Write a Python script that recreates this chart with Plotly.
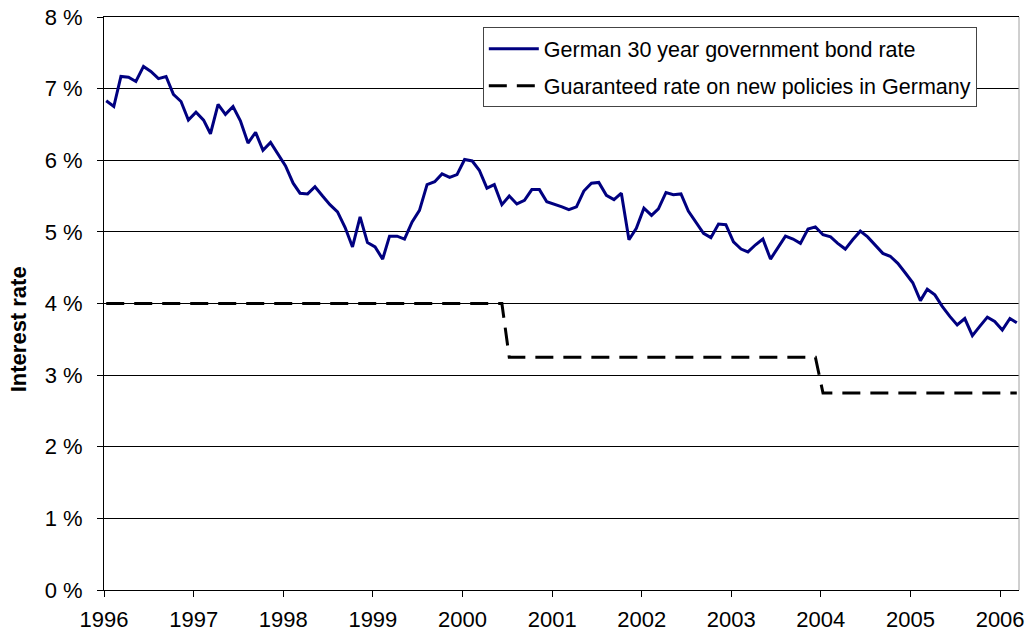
import plotly.graph_objects as go

# ---- data ----
year_ticks = ["1996-01-01", "1997-01-01", "1998-01-01", "1999-01-01", "2000-01-01",
              "2001-01-01", "2002-01-01", "2003-01-01", "2004-01-01", "2005-01-01",
              "2006-01-01"]
year_labels = ["1996", "1997", "1998", "1999", "2000", "2001", "2002", "2003",
               "2004", "2005", "2006"]

# monthly observations, Jan 1996 .. Mar 2006
months = [f"{1996 + i // 12}-{i % 12 + 1:02d}-10" for i in range(123)]

bond_rate = [
    6.83, 6.75, 7.17, 7.16, 7.10, 7.31, 7.24, 7.14, 7.17, 6.92, 6.82, 6.56,   # 1996
    6.67, 6.56, 6.37, 6.78, 6.64, 6.75, 6.55, 6.24, 6.39, 6.14, 6.25, 6.08,   # 1997
    5.92, 5.68, 5.54, 5.53, 5.63, 5.50, 5.38, 5.28, 5.06, 4.79, 5.21, 4.85,   # 1998
    4.79, 4.62, 4.94, 4.94, 4.90, 5.14, 5.30, 5.66, 5.70, 5.81, 5.76, 5.80,   # 1999
    6.01, 5.99, 5.86, 5.61, 5.66, 5.38, 5.50, 5.39, 5.44, 5.59, 5.59, 5.42,   # 2000
    5.39, 5.35, 5.31, 5.35, 5.57, 5.68, 5.69, 5.51, 5.45, 5.54, 4.89, 5.05,   # 2001
    5.33, 5.23, 5.32, 5.55, 5.52, 5.53, 5.29, 5.13, 4.98, 4.92, 5.11, 5.10,   # 2002
    4.86, 4.76, 4.72, 4.82, 4.90, 4.62, 4.77, 4.94, 4.90, 4.84, 5.04, 5.07,   # 2003
    4.96, 4.93, 4.84, 4.76, 4.89, 5.01, 4.93, 4.82, 4.70, 4.66, 4.56, 4.43,   # 2004
    4.29, 4.04, 4.20, 4.12, 3.96, 3.82, 3.70, 3.79, 3.55, 3.68, 3.81, 3.75,   # 2005
    3.63, 3.79, 3.73,                                                         # 2006
]

# guaranteed rate: 4 % until Jun 2000, 3.25 % until Dec 2003, 2.75 % afterwards
guaranteed_rate = [4.00] * 54 + [3.25] * 42 + [2.75] * 27

y_ticks = [0, 1, 2, 3, 4, 5, 6, 7, 8]
y_labels = ["0 %", "1 %", "2 %", "3 %", "4 %", "5 %", "6 %", "7 %", "8 %"]

FONT = "Liberation Sans, Arial, sans-serif"

fig = go.Figure()
fig.add_trace(go.Scatter(
    x=months, y=bond_rate, mode="lines",
    name="German 30 year government bond rate",
    line=dict(color="#000080", width=3),
    legendgroup="a",
))
fig.add_trace(go.Scatter(
    x=months, y=guaranteed_rate, mode="lines",
    name="Guaranteed rate on new policies in Germany",
    line=dict(color="#000000", width=3, dash="18px,10px"),
    legendgroup="b",
))

fig.update_layout(
    width=1029, height=642,
    margin=dict(l=104, r=10, t=17, b=52),
    paper_bgcolor="white", plot_bgcolor="white",
    font=dict(family=FONT, size=21, color="#000000"),
    showlegend=True,
    legend=dict(
        x=0.414, y=0.982, xanchor="left", yanchor="top",
        bgcolor="white", bordercolor="#444444", borderwidth=1,
        font=dict(family=FONT, size=21.5, color="#000000"),
        traceorder="grouped", tracegroupgap=6,
        itemwidth=50,
    ),
    xaxis=dict(
        type="date", automargin=False,
        range=["1996-01-01", "2006-03-19"],
        tickmode="array", tickvals=year_ticks, ticktext=year_labels,
        showgrid=False, zeroline=False,
        showline=True, linecolor="#000000", linewidth=1, mirror=True,
        ticks="outside", ticklen=6, tickcolor="#000000",
        ticklabelstandoff=4, ticklabeloverflow="allow",
        tickfont=dict(family=FONT, size=22),
    ),
    yaxis=dict(
        range=[0, 8], automargin=False,
        tickmode="array", tickvals=y_ticks, ticktext=y_labels,
        showgrid=True, gridcolor="#000000", gridwidth=1,
        zeroline=False,
        showline=True, linecolor="#000000", linewidth=1,
        ticks="outside", ticklen=6, tickcolor="#000000",
        ticklabelstandoff=10, ticklabeloverflow="allow",
        tickfont=dict(family=FONT, size=22),
    ),
    annotations=[dict(
        text="<b>Interest rate</b>", textangle=-90,
        xref="paper", yref="paper", x=-0.094, y=0.455,
        xanchor="center", yanchor="middle", showarrow=False,
        font=dict(family=FONT, size=22, color="#000000"),
    )],
    shapes=[dict(
        type="line", xref="paper", yref="paper", x0=1, x1=1, y0=0, y1=1,
        line=dict(color="#a0a0a0", width=1),
    )],
)

# remove the page's default 8px body margin so the figure fills the window
fig.write_html(
    "out.html",
    config={"displayModeBar": False},
    post_script="document.body.style.margin='0';",
)
